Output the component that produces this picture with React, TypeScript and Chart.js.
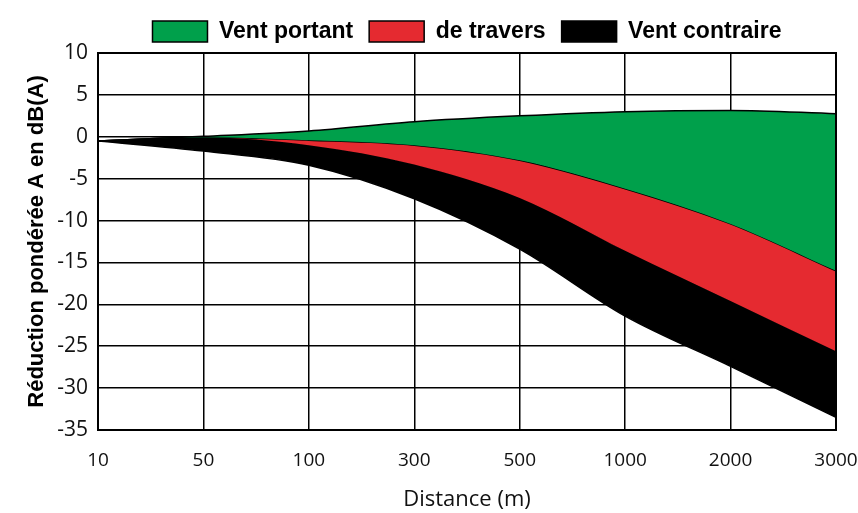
import React, { useEffect, useRef } from "react";
import { Chart, registerables } from "chart.js";

Chart.register(...registerables);

const categories = ["10", "50", "100", "300", "500", "1000", "2000", "3000"];
const ventPortantTop = [-0.5, 0.05, 0.7, 1.8, 2.5, 3.0, 3.15, 2.75];
const deTraversTop = [-0.5, -0.05, -0.4, -1.0, -2.8, -6.2, -10.4, -16.0];
const ventContraireTop = [-0.5, -0.1, -1.0, -3.3, -7.3, -13.6, -19.6, -25.6];
const ventContraireBottom = [-0.5, -1.7, -3.4, -7.4, -13.4, -21.4, -27.4, -33.5];
const seriesLabels = ["Vent portant", "de travers", "Vent contraire"];
const yTicks = { min: -35, max: 10, step: 5 };

const GREEN = "#00A04B";
const RED = "#E52A30";
const BLACK = "#000000";

const framePlugin = {
  id: "frame",
  afterDatasetsDraw(chart: any) {
    const { ctx, chartArea } = chart;
    ctx.save();
    ctx.strokeStyle = "#000";
    ctx.lineWidth = 2;
    ctx.strokeRect(chartArea.left, chartArea.top, chartArea.right - chartArea.left, chartArea.bottom - chartArea.top);
    ctx.restore();
  },
};

export default function App() {
  const ref = useRef<HTMLCanvasElement | null>(null);
  useEffect(() => {
    if (!ref.current) return;
    const common = {
      borderColor: "#000",
      borderWidth: 1.5,
      pointRadius: 0,
      cubicInterpolationMode: "monotone" as const,
    };
    const chart = new Chart(ref.current, {
      type: "line",
      data: {
        labels: categories,
        datasets: [
          { ...common, label: seriesLabels[0], data: ventPortantTop, backgroundColor: GREEN, fill: "+1" },
          { ...common, label: seriesLabels[1], data: deTraversTop, backgroundColor: RED, fill: "+1" },
          { ...common, label: seriesLabels[2], data: ventContraireTop, backgroundColor: BLACK, fill: "+1" },
          { ...common, label: "_bottom", data: ventContraireBottom, backgroundColor: BLACK, borderColor: BLACK, fill: false },
        ],
      },
      options: {
        animation: false,
        responsive: true,
        maintainAspectRatio: false,
        layout: { padding: { left: 0, right: 0, top: 4, bottom: 0 } },
        plugins: {
          tooltip: { enabled: false },
          legend: {
            display: true,
            position: "top",
            fullSize: false,
            labels: {
              filter: (item: any) => item.datasetIndex < 3,
              boxWidth: 55,
              boxHeight: 21,
              padding: 16,
              color: "#000",
              font: { family: "'Liberation Sans', Arial, sans-serif", size: 23, weight: "bold" },
            },
          },
        },
        scales: {
          x: {
            type: "category",
            offset: false,
            grid: { color: "#000", lineWidth: 1.5, drawTicks: false },
            border: { display: true, color: "#000", width: 2 },
            ticks: {
              color: "#111",
              padding: 19,
              maxRotation: 0,
              autoSkip: false,
              font: { family: "'Open Sans', sans-serif", size: 19 },
            },
            title: {
              display: true,
              text: "Distance (m)",
              color: "#111",
              font: { family: "'Open Sans', sans-serif", size: 22 },
              padding: { top: 0, bottom: 0 },
            },
            afterFit: (s: any) => {
              s.height = 83;
              s.paddingRight = 22;
              s.paddingLeft = 0;
            },
          },
          y: {
            min: yTicks.min,
            max: yTicks.max,
            grid: { color: "#000", lineWidth: 1.5, drawTicks: false },
            border: { display: true, color: "#000", width: 2 },
            ticks: {
              stepSize: yTicks.step,
              color: "#111",
              padding: 10,
              font: { family: "'Open Sans', sans-serif", size: 21 },
            },
            title: {
              display: true,
              text: "Réduction pondérée A en dB(A)",
              color: "#000",
              font: { family: "'Liberation Sans', Arial, sans-serif", size: 22, weight: "bold" },
              padding: { top: 24, bottom: 0 },
            },
            afterFit: (s: any) => {
              s.width = 98;
            },
          },
        },
      },
      plugins: [framePlugin],
    });
    return () => chart.destroy();
  }, []);
  return (
    <div style={{ position: "fixed", left: 0, top: 0, width: 858, height: 513, background: "#fff" }}>
      <canvas ref={ref} />
    </div>
  );
}
